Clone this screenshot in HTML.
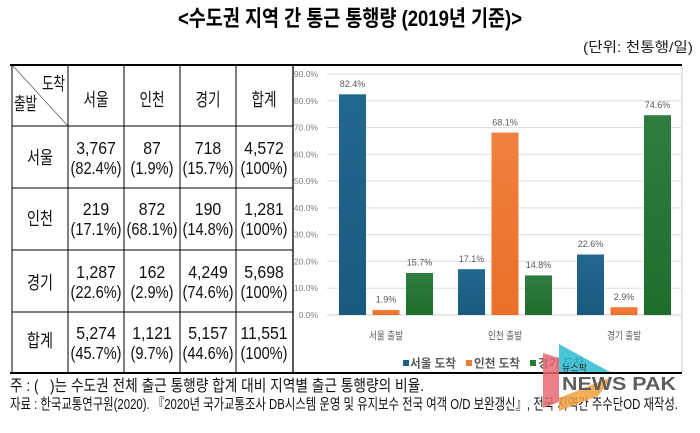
<!DOCTYPE html>
<html><head><meta charset="utf-8">
<style>
html,body{margin:0;padding:0;background:#fff;}
svg{display:block;}
text{font-family:"Liberation Sans","Noto Sans CJK KR",sans-serif;}
</style></head>
<body>
<svg width="700" height="433" viewBox="0 0 700 433" xmlns="http://www.w3.org/2000/svg">
<defs>
<linearGradient id="gb" x1="0" y1="0" x2="0" y2="1"><stop offset="0" stop-color="#23688f"/><stop offset="1" stop-color="#195a80"/></linearGradient>
<linearGradient id="go" x1="0" y1="0" x2="0" y2="1"><stop offset="0" stop-color="#f08040"/><stop offset="1" stop-color="#ec7028"/></linearGradient>
<linearGradient id="gg" x1="0" y1="0" x2="0" y2="1"><stop offset="0" stop-color="#2f7d40"/><stop offset="1" stop-color="#1f6e2c"/></linearGradient>
</defs>
<rect width="700" height="433" fill="#fff"/>

<!-- Title -->
<text x="178" y="26" font-size="22" font-weight="bold" fill="#000" textLength="344" lengthAdjust="spacingAndGlyphs">&lt;수도권 지역 간 통근 통행량 (2019년 기준)&gt;</text>
<text x="583" y="52" font-size="14" fill="#222" textLength="110" lengthAdjust="spacingAndGlyphs">(단위: 천통행/일)</text>

<!-- Table lines -->
<g stroke="#000" fill="none">
<line x1="10" y1="65" x2="682" y2="65" stroke-width="2"/>
<line x1="10" y1="373" x2="682" y2="373" stroke-width="2"/>
<line x1="12" y1="65" x2="12" y2="373" stroke-width="1"/>
<line x1="68" y1="65" x2="68" y2="373" stroke-width="1"/>
<line x1="124" y1="65" x2="124" y2="373" stroke-width="1"/>
<line x1="180" y1="65" x2="180" y2="373" stroke-width="1"/>
<line x1="236" y1="65" x2="236" y2="373" stroke-width="1"/>
<line x1="293" y1="65" x2="293" y2="373" stroke-width="1.3"/>
<line x1="12" y1="126" x2="293" y2="126" stroke-width="1"/>
<line x1="12" y1="188" x2="293" y2="188" stroke-width="1"/>
<line x1="12" y1="250" x2="293" y2="250" stroke-width="1"/>
<line x1="12" y1="312" x2="293" y2="312" stroke-width="1"/>
<line x1="13" y1="66" x2="67" y2="125" stroke-width="0.7" stroke="#555"/>
</g>
<line x1="682" y1="66" x2="682" y2="372" stroke="#c8c8c8" stroke-width="1"/>

<!-- Header -->
<g font-size="18" fill="#111">
<text x="42" y="90" textLength="23" lengthAdjust="spacingAndGlyphs">도착</text>
<text x="14" y="110" textLength="23" lengthAdjust="spacingAndGlyphs">출발</text>
<text x="96" y="106" text-anchor="middle" textLength="25" lengthAdjust="spacingAndGlyphs">서울</text>
<text x="152" y="106" text-anchor="middle" textLength="25" lengthAdjust="spacingAndGlyphs">인천</text>
<text x="208" y="106" text-anchor="middle" textLength="25" lengthAdjust="spacingAndGlyphs">경기</text>
<text x="264" y="106" text-anchor="middle" textLength="25" lengthAdjust="spacingAndGlyphs">합계</text>
<text x="40" y="164" text-anchor="middle" textLength="26" lengthAdjust="spacingAndGlyphs">서울</text>
<text x="40" y="225" text-anchor="middle" textLength="26" lengthAdjust="spacingAndGlyphs">인천</text>
<text x="40" y="289" text-anchor="middle" textLength="26" lengthAdjust="spacingAndGlyphs">경기</text>
<text x="40" y="347" text-anchor="middle" textLength="26" lengthAdjust="spacingAndGlyphs">합계</text>
</g>

<!-- Table values -->
<g font-size="18" fill="#111" text-anchor="middle">
<g transform="translate(96,0) scale(0.88,1)"><text x="0" y="154">3,767</text><text x="0" y="174" transform="scale(0.92,1)">(82.4%)</text></g>
<g transform="translate(152,0) scale(0.88,1)"><text x="0" y="154">87</text><text x="0" y="174" transform="scale(0.92,1)">(1.9%)</text></g>
<g transform="translate(208,0) scale(0.88,1)"><text x="0" y="154">718</text><text x="0" y="174" transform="scale(0.92,1)">(15.7%)</text></g>
<g transform="translate(264,0) scale(0.88,1)"><text x="0" y="154">4,572</text><text x="0" y="174" transform="scale(0.92,1)">(100%)</text></g>
<g transform="translate(96,0) scale(0.88,1)"><text x="0" y="215">219</text><text x="0" y="235" transform="scale(0.92,1)">(17.1%)</text></g>
<g transform="translate(152,0) scale(0.88,1)"><text x="0" y="215">872</text><text x="0" y="235" transform="scale(0.92,1)">(68.1%)</text></g>
<g transform="translate(208,0) scale(0.88,1)"><text x="0" y="215">190</text><text x="0" y="235" transform="scale(0.92,1)">(14.8%)</text></g>
<g transform="translate(264,0) scale(0.88,1)"><text x="0" y="215">1,281</text><text x="0" y="235" transform="scale(0.92,1)">(100%)</text></g>
<g transform="translate(96,0) scale(0.88,1)"><text x="0" y="278">1,287</text><text x="0" y="298" transform="scale(0.92,1)">(22.6%)</text></g>
<g transform="translate(152,0) scale(0.88,1)"><text x="0" y="278">162</text><text x="0" y="298" transform="scale(0.92,1)">(2.9%)</text></g>
<g transform="translate(208,0) scale(0.88,1)"><text x="0" y="278">4,249</text><text x="0" y="298" transform="scale(0.92,1)">(74.6%)</text></g>
<g transform="translate(264,0) scale(0.88,1)"><text x="0" y="278">5,698</text><text x="0" y="298" transform="scale(0.92,1)">(100%)</text></g>
<g transform="translate(96,0) scale(0.88,1)"><text x="0" y="339">5,274</text><text x="0" y="359" transform="scale(0.92,1)">(45.7%)</text></g>
<g transform="translate(152,0) scale(0.88,1)"><text x="0" y="339">1,121</text><text x="0" y="359" transform="scale(0.92,1)">(9.7%)</text></g>
<g transform="translate(208,0) scale(0.88,1)"><text x="0" y="339">5,157</text><text x="0" y="359" transform="scale(0.92,1)">(44.6%)</text></g>
<g transform="translate(264,0) scale(0.88,1)"><text x="0" y="339">11,551</text><text x="0" y="359" transform="scale(0.92,1)">(100%)</text></g>
</g>

<!-- Chart gridlines -->
<g stroke="#dedede" stroke-width="1">
<line x1="327" y1="315" x2="681" y2="315" stroke="#d0d0d0"/>
<line x1="327" y1="288.2" x2="681" y2="288.2"/>
<line x1="327" y1="261.4" x2="681" y2="261.4"/>
<line x1="327" y1="234.7" x2="681" y2="234.7"/>
<line x1="327" y1="207.9" x2="681" y2="207.9"/>
<line x1="327" y1="181.1" x2="681" y2="181.1"/>
<line x1="327" y1="154.3" x2="681" y2="154.3"/>
<line x1="327" y1="127.5" x2="681" y2="127.5"/>
<line x1="327" y1="100.8" x2="681" y2="100.8"/>
<line x1="327" y1="74" x2="681" y2="74"/>
</g>
<g font-size="8.5" fill="#7f7f7f" text-anchor="end">
<text x="318" y="318">0.0%</text>
<text x="318" y="291.2">10.0%</text>
<text x="318" y="264.4">20.0%</text>
<text x="318" y="237.7">30.0%</text>
<text x="318" y="210.9">40.0%</text>
<text x="318" y="184.1">50.0%</text>
<text x="318" y="157.3">60.0%</text>
<text x="318" y="130.5">70.0%</text>
<text x="318" y="103.8">80.0%</text>
<text x="318" y="77">90.0%</text>
</g>

<!-- Bars -->
<rect x="339" y="94.3" width="27" height="220.7" fill="url(#gb)"/>
<rect x="372.5" y="309.9" width="27" height="5.1" fill="url(#go)"/>
<rect x="406" y="273" width="27" height="42" fill="url(#gg)"/>
<rect x="458" y="269.2" width="27" height="45.8" fill="url(#gb)"/>
<rect x="491.5" y="132.6" width="27" height="182.4" fill="url(#go)"/>
<rect x="525" y="275.4" width="27" height="39.6" fill="url(#gg)"/>
<rect x="577" y="254.5" width="27" height="60.5" fill="url(#gb)"/>
<rect x="610.5" y="307.2" width="27" height="7.8" fill="url(#go)"/>
<rect x="644" y="115.2" width="27" height="199.8" fill="url(#gg)"/>

<g font-size="9" fill="#595959" text-anchor="middle">
<text x="352.5" y="87">82.4%</text>
<text x="386" y="302.6">1.9%</text>
<text x="419.5" y="265.7">15.7%</text>
<text x="471.5" y="261.9">17.1%</text>
<text x="505" y="125.3">68.1%</text>
<text x="538.5" y="268.1">14.8%</text>
<text x="590.5" y="247.2">22.6%</text>
<text x="624" y="299.9">2.9%</text>
<text x="657.5" y="107.9">74.6%</text>
</g>

<!-- Category labels -->
<g font-size="10.5" fill="#595959" text-anchor="middle">
<text x="386" y="339" textLength="34" lengthAdjust="spacingAndGlyphs">서울 출발</text>
<text x="505" y="339" textLength="34" lengthAdjust="spacingAndGlyphs">인천 출발</text>
<text x="624" y="339" textLength="34" lengthAdjust="spacingAndGlyphs">경기 출발</text>
</g>

<!-- Legend -->
<rect x="403" y="360" width="6" height="6" fill="#1d5f86"/>
<rect x="466" y="360" width="6" height="6" fill="#ed7d31"/>
<rect x="530" y="360" width="6" height="6" fill="#2a7a36"/>
<g font-size="12" font-weight="bold" fill="#595959">
<text x="410" y="367.5" textLength="46" lengthAdjust="spacingAndGlyphs">서울 도착</text>
<text x="474" y="367.5" textLength="46" lengthAdjust="spacingAndGlyphs">인천 도착</text>
<text x="538" y="367.5" textLength="46" lengthAdjust="spacingAndGlyphs">경기 도착</text>
</g>

<!-- Footnotes -->
<text x="10" y="391" font-size="16" fill="#111" textLength="414" lengthAdjust="spacingAndGlyphs">주 : (&#160;&#160;&#160;)는 수도권 전체 출근 통행량 합계 대비 지역별 출근 통행량의 비율.</text>
<text x="10" y="409" font-size="15" fill="#111" textLength="668" lengthAdjust="spacingAndGlyphs">자료 : 한국교통연구원(2020). 『2020년 국가교통조사 DB시스템 운영 및 유지보수 전국 여객 O/D 보완갱신』, 전국 지역간 주수단OD 재작성.</text>

<!-- Watermark -->
<g opacity="0.85">
<polygon points="543,353 559,358 559,402 543,408" fill="#e86a74"/>
<polygon points="559,344 610,372 559,372" fill="#2bbdd0"/>
<polygon points="559,398 604,380 612,378 598,396 559,411" fill="#f2a040"/>
</g>
<text x="562" y="371" font-size="9" fill="#333" textLength="25" lengthAdjust="spacingAndGlyphs">뉴스팍</text>
<text x="562" y="390" font-size="18" font-weight="bold" fill="#5e5e5e" textLength="114" lengthAdjust="spacingAndGlyphs">NEWS PAK</text>
</svg>
</body></html>
